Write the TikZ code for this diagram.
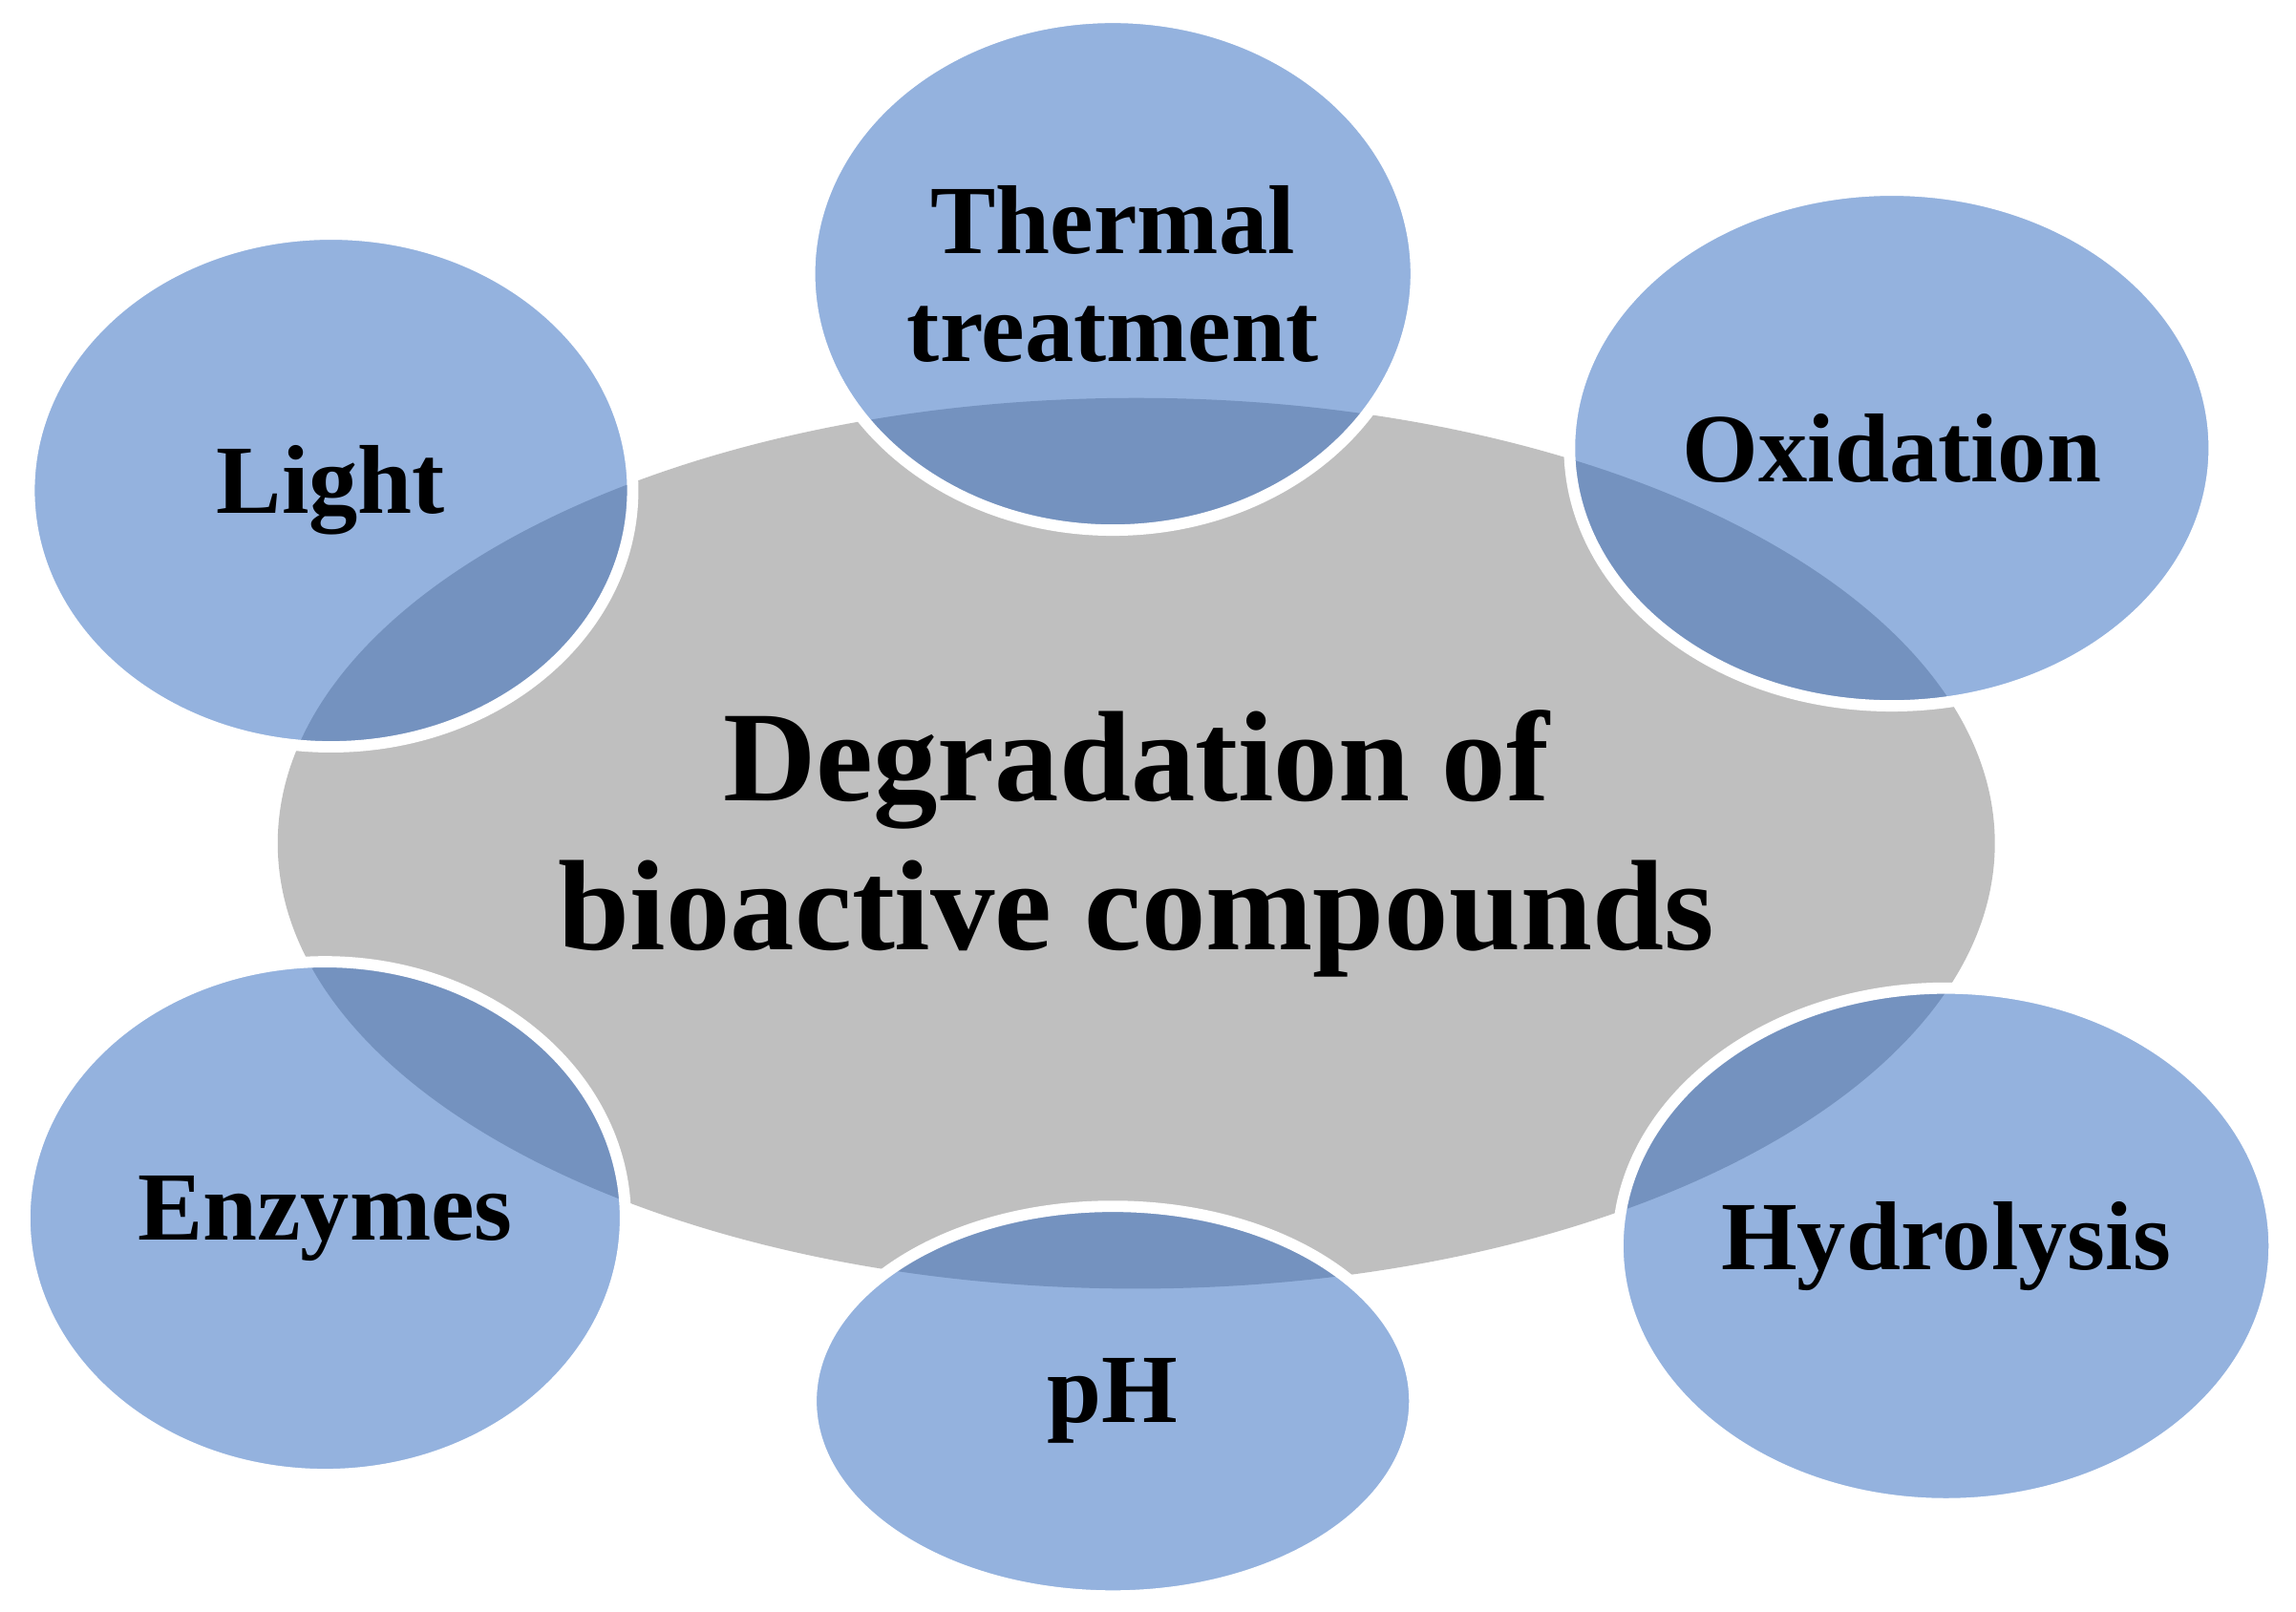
\documentclass[tikz,border=0pt]{standalone}
\usepackage{fontspec}
\setmainfont{Liberation Serif}
\usetikzlibrary{shapes.geometric}
\definecolor{bub}{RGB}{43,103,191}
\definecolor{gr}{RGB}{191,191,191}
\tikzset{
 bubble/.style={ellipse,inner sep=0pt,fill=bub,fill opacity=0.5,text opacity=1,draw=white,line width=2.2pt,font=\fontsize{19}{21}\selectfont\bfseries,align=center},
 core/.style={ellipse,inner sep=0pt,fill=gr,draw=none,font=\fontsize{25}{29}\selectfont\bfseries,align=center}
}
\begin{document}
\begin{tikzpicture}[x=0.01cm,y=-0.01cm]
\useasboundingbox[fill=white] (0,0) rectangle (1568,1101);
\node[core,minimum width=1172\pgflinewidth*0+11.72cm,minimum height=6.08cm] (c) at (776,576) {Degradation of\\bioactive compounds};
\node[bubble,minimum width=4.14cm,minimum height=3.5cm] (t) at (760,187) {Thermal\\treatment};
\node[bubble,minimum width=4.12cm,minimum height=3.5cm] (l) at (226,335) {Light};
\node[bubble,minimum width=4.4cm,minimum height=3.52cm] (o) at (1292,306) {Oxidation};
\node[bubble,minimum width=4.1cm,minimum height=3.5cm] (e) at (222,832) {Enzymes};
\node[bubble,minimum width=4.12cm,minimum height=2.66cm] (p) at (760,957) {pH};
\node[bubble,minimum width=4.48cm,minimum height=3.52cm] (h) at (1329,851) {Hydrolysis};
\end{tikzpicture}
\end{document}
